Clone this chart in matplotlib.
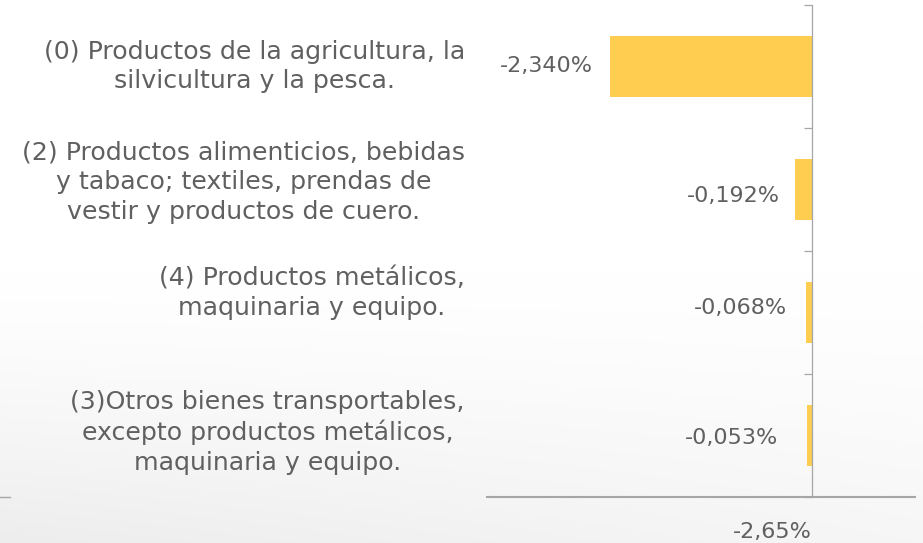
import numpy as np
import matplotlib
matplotlib.use("Agg")
import matplotlib.pyplot as plt
from matplotlib.lines import Line2D

plt.rcParams['font.family'] = ['DejaVu Sans']

categories = [
    "(0) Productos de la agricultura, la\nsilvicultura y la pesca.",
    "(2) Productos alimenticios, bebidas\ny tabaco; textiles, prendas de\nvestir y productos de cuero.",
    "(4) Productos metálicos,\nmaquinaria y equipo.",
    "(3)Otros bienes transportables,\nexcepto productos metálicos,\nmaquinaria y equipo.",
]
values = [-2.340, -0.192, -0.068, -0.053]
value_labels = ["-2,340%", "-0,192%", "-0,068%", "-0,053%"]
total_label = "-2,65%"

W, H, DPI = 923, 543, 100
fig = plt.figure(figsize=(W / DPI, H / DPI), dpi=DPI)

# subtle background gradient
bg = fig.add_axes([0, 0, 1, 1], zorder=-10)
yy = np.linspace(0, 1, 300)[:, None]   # 0 top -> 1 bottom
xx = np.linspace(0, 1, 500)[None, :]
shade = np.clip((yy - 0.5) / 0.5, 0, 1) ** 1.3 * (0.07 - 0.035 * xx)
img = 1 - shade
bg.imshow(np.dstack([img, img, img]), aspect='auto', extent=[0, 1, 0, 1],
          origin='upper', interpolation='bilinear')
bg.set_xlim(0, 1); bg.set_ylim(0, 1)
bg.axis('off')

left_px, right_px, top_px, bot_px = 487, 915, 5, 497
ax = fig.add_axes([left_px / W, 1 - bot_px / H, (right_px - left_px) / W, (bot_px - top_px) / H])
ax.patch.set_alpha(0)

text_color = '#606060'
axis_color = '#A6A6A6'
bar_color = '#FFCD50'

y = np.arange(len(values))
ax.barh(y, values, height=0.5, color=bar_color, zorder=2)

ax.set_xlim(-3.766, 1.194)
ax.set_ylim(3.5, -0.5)

for s in ['top', 'right']:
    ax.spines[s].set_visible(False)
ax.spines['left'].set_position(('data', 0))
ax.spines['left'].set_color(axis_color)
ax.spines['left'].set_linewidth(0.9)
ax.spines['left'].set_zorder(3)
ax.spines['bottom'].set_color(axis_color)
ax.spines['bottom'].set_linewidth(1.5)

ax.set_yticks(np.arange(-0.5, len(values) + 0.5, 1.0))
ax.tick_params(axis='y', direction='out', length=6, width=0.9, color=axis_color,
               labelleft=False)
ax.set_xticks([])

# value labels
gaps = [17, 16, 19, 29]
dys = [0, -7, 4, -2]
for yi, v, lab, g, dy in zip(y, values, value_labels, gaps, dys):
    ax.annotate(lab, xy=(v, yi), xytext=(-g, dy), textcoords='offset pixels',
                ha='right', va='center', fontsize=16, color=text_color)

# category labels
cat_dy = [0, 7, 19, 3]
for yi, cat, dy in zip(y, categories, cat_dy):
    ax.annotate(cat, xy=(-3.766, yi), xytext=(-22, dy), textcoords='offset pixels',
                ha='right', va='center', multialignment='center',
                fontsize=18.2, color=text_color, linespacing=1.3,
                annotation_clip=False)

# total label under axis
ax.annotate(total_label, xy=(0, 3.5), xytext=(0, -35), textcoords='offset pixels',
            ha='right', va='center', fontsize=16, color=text_color,
            annotation_clip=False)

# short stray line at far left
fig.add_artist(Line2D([0, 10 / W], [1 - bot_px / H, 1 - bot_px / H],
                      color=axis_color, lw=1.0))

fig.savefig("out.png", dpi=DPI)
